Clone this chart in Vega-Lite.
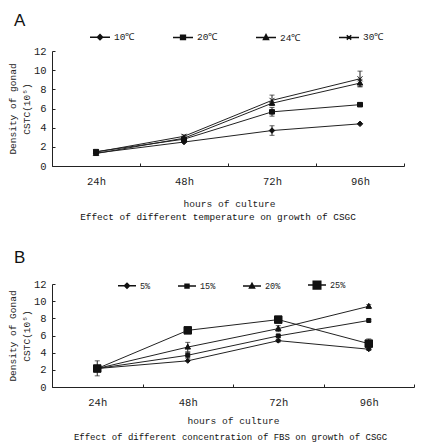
{
  "$schema": "https://vega.github.io/schema/vega-lite/v6.json",
  "padding": {"left": 7, "top": 12, "right": 0, "bottom": 0},
  "background": "white",
  "spacing": 26,
  "resolve": {"scale": {"shape": "independent"}, "legend": {"shape": "independent"}},
  "config": {
    "view": {"stroke": null},
    "font": "Liberation Mono",
    "axis": {
      "domainColor": "#222",
      "tickColor": "#222",
      "labelColor": "#222",
      "titleColor": "#222",
      "labelFont": "Liberation Mono",
      "titleFont": "Liberation Mono",
      "titleFontWeight": "normal",
      "labelOverlap": false,
      "labelBound": false,
      "labelFlush": false,
      "grid": false
    },
    "axisY": {"labelOverlap": false, "labelSeparation": 0, "values": [0, 2, 4, 6, 8, 10, 12], "tickCount": 7},
    "legend": {"labelFont": "Liberation Mono", "labelColor": "#222"},
    "title": {"color": "#111"}
  },
  "datasets": {
    "ptsA": [
      {"series": "10℃", "time": "24h", "value": 1.35},
      {"series": "10℃", "time": "48h", "value": 2.5},
      {"series": "10℃", "time": "72h", "value": 3.7},
      {"series": "10℃", "time": "96h", "value": 4.4},
      {"series": "20℃", "time": "24h", "value": 1.5},
      {"series": "20℃", "time": "48h", "value": 2.8},
      {"series": "20℃", "time": "72h", "value": 5.65},
      {"series": "20℃", "time": "96h", "value": 6.4},
      {"series": "24℃", "time": "24h", "value": 1.3},
      {"series": "24℃", "time": "48h", "value": 2.9},
      {"series": "24℃", "time": "72h", "value": 6.55},
      {"series": "24℃", "time": "96h", "value": 8.65},
      {"series": "30℃", "time": "24h", "value": 1.45},
      {"series": "30℃", "time": "48h", "value": 3.1},
      {"series": "30℃", "time": "72h", "value": 6.85},
      {"series": "30℃", "time": "96h", "value": 9.1}
    ],
    "errA": [
      {"series": "20℃", "time": "24h", "lo": 1.35, "hi": 1.65},
      {"series": "30℃", "time": "48h", "lo": 2.95, "hi": 3.25},
      {"series": "10℃", "time": "72h", "lo": 3.2, "hi": 4.2},
      {"series": "20℃", "time": "72h", "lo": 5.2, "hi": 6.1},
      {"series": "30℃", "time": "72h", "lo": 6.3, "hi": 7.4},
      {"series": "20℃", "time": "96h", "lo": 6.2, "hi": 6.6},
      {"series": "24℃", "time": "96h", "lo": 8.25, "hi": 9.05},
      {"series": "30℃", "time": "96h", "lo": 8.3, "hi": 9.9}
    ],
    "ptsB": [
      {"series": "5%", "time": "24h", "value": 2.15},
      {"series": "5%", "time": "48h", "value": 3.05},
      {"series": "5%", "time": "72h", "value": 5.4},
      {"series": "5%", "time": "96h", "value": 4.4},
      {"series": "15%", "time": "24h", "value": 2.15},
      {"series": "15%", "time": "48h", "value": 3.7},
      {"series": "15%", "time": "72h", "value": 5.95},
      {"series": "15%", "time": "96h", "value": 7.75},
      {"series": "20%", "time": "24h", "value": 2.15},
      {"series": "20%", "time": "48h", "value": 4.65},
      {"series": "20%", "time": "72h", "value": 6.8},
      {"series": "20%", "time": "96h", "value": 9.4},
      {"series": "25%", "time": "24h", "value": 2.15},
      {"series": "25%", "time": "48h", "value": 6.6},
      {"series": "25%", "time": "72h", "value": 7.85},
      {"series": "25%", "time": "96h", "value": 5.05}
    ],
    "errB": [
      {"series": "25%", "time": "24h", "lo": 1.3, "hi": 3.05},
      {"series": "20%", "time": "48h", "lo": 4.1, "hi": 5.2},
      {"series": "15%", "time": "48h", "lo": 3.35, "hi": 4.05},
      {"series": "25%", "time": "48h", "lo": 6.35, "hi": 6.85},
      {"series": "20%", "time": "72h", "lo": 6.45, "hi": 7.15},
      {"series": "25%", "time": "72h", "lo": 7.6, "hi": 8.1},
      {"series": "5%", "time": "72h", "lo": 5.25, "hi": 5.55},
      {"series": "25%", "time": "96h", "lo": 4.5, "hi": 5.6},
      {"series": "20%", "time": "96h", "lo": 9.2, "hi": 9.6},
      {"series": "5%", "time": "96h", "lo": 4.25, "hi": 4.55},
      {"series": "15%", "time": "96h", "lo": 7.65, "hi": 7.85}
    ]
  },
  "vconcat": [
    {
      "title": {"text": "A", "anchor": "start", "font": "Liberation Sans", "fontSize": 17, "fontWeight": "normal", "dx": 6, "offset": -4},
      "resolve": {"scale": {"shape": "independent"}, "legend": {"shape": "independent"}},
      "vconcat": [
        {
          "width": 352,
          "height": 115,
          "title": {"text": "Effect of different temperature on growth of CSGC", "orient": "bottom", "anchor": "middle", "frame": "group", "font": "Liberation Mono", "fontSize": 9.4, "fontWeight": "normal", "offset": 5, "dx": -10},
          "resolve": {"scale": {"shape": "independent"}, "legend": {"shape": "independent"}},
          "layer": [
            {
              "data": {"name": "ptsA"},
              "mark": {"type": "line", "color": "#222", "strokeWidth": 1},
              "encoding": {
                "x": {"field": "time", "type": "nominal",
                  "scale": {"type": "band", "domain": ["24h", "48h", "72h", "96h"], "paddingInner": 0, "paddingOuter": 0},
                  "axis": {"title": "hours of culture", "labelAngle": 0, "tickBand": "extent", "tickSize": -3, "labelPadding": 13, "labelFontSize": 10.5, "titleFontSize": 9.6, "titlePadding": 12, "titleX": 177}},
                "y": {"field": "value", "type": "quantitative", "title": ["Density of gonad", "CSTC(10⁵)"],
                  "scale": {"domain": [0, 12], "nice": false},
                  "axis": {"values": [0, 2, 4, 6, 8, 10, 12], "labelOverlap": false, "tickSize": -3, "labelPadding": 9, "labelFontSize": 10.5, "titleFontSize": 9.5, "titleLineHeight": 13.5, "titlePadding": 2}},
                "detail": {"field": "series"}
              }
            },
            {
              "data": {"name": "errA"},
              "mark": {"type": "errorbar", "ticks": {"size": 5, "color": "#222"}, "rule": {"color": "#222"}},
              "encoding": {
                "x": {"field": "time", "type": "nominal"},
                "y": {"field": "lo", "type": "quantitative", "title": ["Density of gonad", "CSTC(10⁵)"],
                  "axis": {"values": [0, 2, 4, 6, 8, 10, 12], "labelOverlap": false}},
                "y2": {"field": "hi"}
              }
            },
            {
              "data": {"name": "ptsA"},
              "mark": {"type": "point", "filled": true, "color": "#111", "stroke": "#111", "strokeWidth": 1, "opacity": 1, "size": 0},
              "encoding": {
                "x": {"field": "time", "type": "nominal"},
                "y": {"field": "value", "type": "quantitative", "title": ["Density of gonad", "CSTC(10⁵)"],
                  "axis": {"values": [0, 2, 4, 6, 8, 10, 12], "labelOverlap": false}},
                "shape": {"field": "series", "type": "nominal",
                  "scale": {"domain": ["10℃", "20℃", "24℃", "30℃"], "range": ["M-1,0H1M0,-0.26L0.26,0L0,0.26L-0.26,0Z", "M-1,0H1M-0.24,-0.22H0.24V0.22H-0.24Z", "M-1,0H1M0,-0.28L0.25,0.2H-0.25Z", "M-1,0H1M-0.22,-0.22L0.22,0.22M-0.22,0.22L0.22,-0.22"]},
                  "legend": {
                    "orient": "none", "legendX": 37, "legendY": -25, "direction": "horizontal", "columns": 4, "columnPadding": 35,
                    "title": null, "labelFontSize": 9.5, "symbolSize": 400, "labelOffset": 3, "padding": 0
                  }}
              }
            },
            {
              "data": {"name": "ptsA"},
              "mark": {"type": "point", "filled": true, "color": "#111", "stroke": "#111", "strokeWidth": 1, "opacity": 1, "size": 25},
              "encoding": {
                "x": {"field": "time", "type": "nominal"},
                "y": {"field": "value", "type": "quantitative", "title": ["Density of gonad", "CSTC(10⁵)"],
                  "axis": {"values": [0, 2, 4, 6, 8, 10, 12], "labelOverlap": false}},
                "shape": {"field": "series", "type": "nominal", "legend": null,
                  "scale": {"domain": ["10℃", "20℃", "24℃", "30℃"], "range": ["M0,-1.1L1.1,0L0,1.1L-1.1,0Z", "M-1,-0.9H1V0.9H-1Z", "M0,-1.2L1.1,0.8H-1.1Z", "M-1,-1L1,1M-1,1L1,-1"]}}
              }
            }
          ]
        }
      ]
    },
    {
      "title": {"text": "B", "anchor": "start", "font": "Liberation Sans", "fontSize": 17, "fontWeight": "normal", "dx": 6, "offset": 8.5},
      "resolve": {"scale": {"shape": "independent"}, "legend": {"shape": "independent"}},
      "vconcat": [
        {
          "width": 362,
          "height": 103,
          "title": {"text": "Effect of different concentration of FBS on growth of CSGC", "orient": "bottom", "anchor": "middle", "frame": "group", "font": "Liberation Mono", "fontSize": 9, "fontWeight": "normal", "offset": 8, "dx": -2.5},
          "resolve": {"scale": {"shape": "independent"}, "legend": {"shape": "independent"}},
          "layer": [
            {
              "data": {"name": "ptsB"},
              "mark": {"type": "line", "color": "#222", "strokeWidth": 1},
              "encoding": {
                "x": {"field": "time", "type": "nominal",
                  "scale": {"type": "band", "domain": ["24h", "48h", "72h", "96h"], "paddingInner": 0, "paddingOuter": 0},
                  "axis": {"title": "hours of culture", "labelAngle": 0, "tickBand": "extent", "tickSize": -3, "labelPadding": 13, "labelFontSize": 10.5, "titleFontSize": 9.6, "titlePadding": 8}},
                "y": {"field": "value", "type": "quantitative", "title": ["Density of Gonad", "CSTC(10⁵)"],
                  "scale": {"domain": [0, 12], "nice": false},
                  "axis": {"values": [0, 2, 4, 6, 8, 10, 12], "labelOverlap": false, "tickSize": -3, "labelPadding": 9, "labelFontSize": 10.5, "titleFontSize": 9.5, "titleLineHeight": 13.5, "titlePadding": 2}},
                "detail": {"field": "series"}
              }
            },
            {
              "data": {"name": "errB"},
              "mark": {"type": "errorbar", "ticks": {"size": 5, "color": "#222"}, "rule": {"color": "#222"}},
              "encoding": {
                "x": {"field": "time", "type": "nominal"},
                "y": {"field": "lo", "type": "quantitative", "title": ["Density of Gonad", "CSTC(10⁵)"],
                  "axis": {"values": [0, 2, 4, 6, 8, 10, 12], "labelOverlap": false}},
                "y2": {"field": "hi"}
              }
            },
            {
              "data": {"name": "ptsB"},
              "mark": {"type": "point", "filled": true, "color": "#111", "stroke": "#111", "strokeWidth": 1, "opacity": 1, "size": 0},
              "encoding": {
                "x": {"field": "time", "type": "nominal"},
                "y": {"field": "value", "type": "quantitative", "title": ["Density of Gonad", "CSTC(10⁵)"],
                  "axis": {"values": [0, 2, 4, 6, 8, 10, 12], "labelOverlap": false}},
                "shape": {"field": "series", "type": "nominal",
                  "scale": {"domain": ["5%", "15%", "20%", "25%"], "range": ["M-1,0H1M0,-0.28L0.28,0L0,0.28L-0.28,0Z", "M-1,0H1M-0.22,-0.2H0.22V0.2H-0.22Z", "M-1,0H1M0,-0.3L0.28,0.22H-0.28Z", "M-1,0H1M-0.42,-0.42H0.42V0.42H-0.42Z"]},
                  "legend": {
                    "orient": "none", "legendX": 65, "legendY": -9, "direction": "horizontal", "columns": 4, "columnPadding": 24,
                    "title": null, "labelFontSize": 8.5, "symbolSize": 324, "labelOffset": 3, "padding": 0
                  }}
              }
            },
            {
              "data": {"name": "ptsB"},
              "mark": {"type": "point", "filled": true, "color": "#111", "stroke": "#111", "strokeWidth": 1, "opacity": 1, "size": 25},
              "encoding": {
                "x": {"field": "time", "type": "nominal"},
                "y": {"field": "value", "type": "quantitative", "title": ["Density of Gonad", "CSTC(10⁵)"],
                  "axis": {"values": [0, 2, 4, 6, 8, 10, 12], "labelOverlap": false}},
                "shape": {"field": "series", "type": "nominal", "legend": null,
                  "scale": {"domain": ["5%", "15%", "20%", "25%"], "range": ["M0,-1L1,0L0,1L-1,0Z", "M-0.8,-0.8H0.8V0.8H-0.8Z", "M0,-1.2L1.1,0.8H-1.1Z", "M-1.5,-1.5H1.5V1.5H-1.5Z"]}}
              }
            }
          ]
        }
      ]
    }
  ]
}
